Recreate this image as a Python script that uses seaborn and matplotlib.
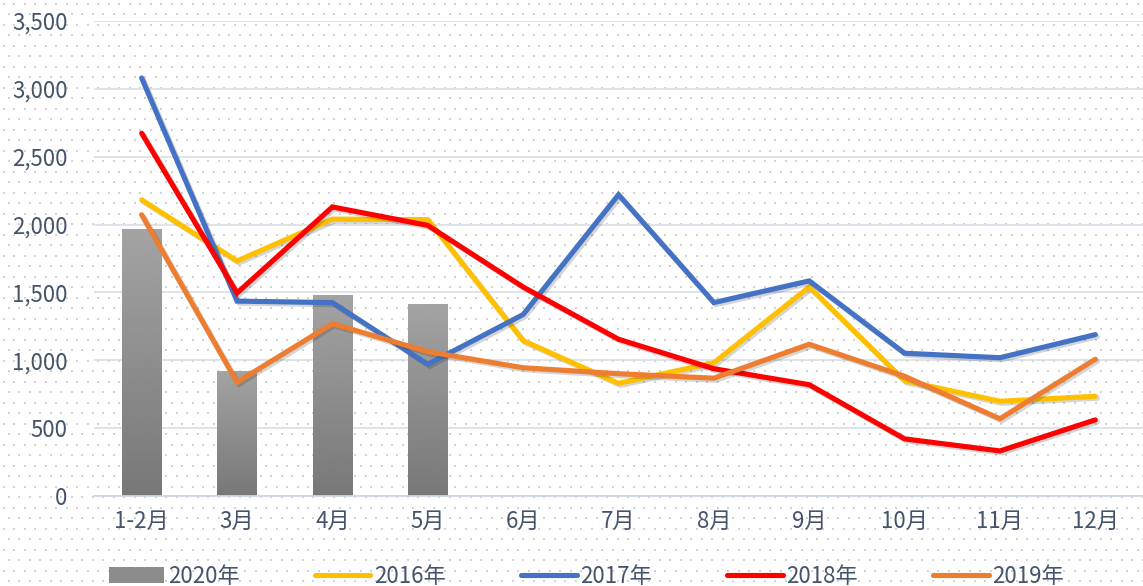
import matplotlib
matplotlib.use('Agg')
import matplotlib.pyplot as plt
import matplotlib.patheffects as pe
from matplotlib.patches import Patch
from matplotlib.lines import Line2D
import numpy as np
import pandas as pd
import seaborn as sns

sns.set_theme(style='white')
plt.rcParams['font.family'] = ['Noto Sans CJK SC', 'DejaVu Sans']

months = ['1-2月', '3月', '4月', '5月', '6月', '7月', '8月', '9月', '10月', '11月', '12月']
bars_2020 = [1965, 923, 1484, 1418]
y2016 = [2182, 1732, 2040, 2036, 1145, 830, 982, 1540, 849, 698, 735]
y2017 = [3080, 1436, 1425, 970, 1337, 2220, 1425, 1585, 1052, 1019, 1189]
y2018 = [2673, 1496, 2130, 1994, 1540, 1155, 938, 820, 421, 332, 561]
y2019 = [2072, 838, 1270, 1063, 945, 901, 868, 1118, 882, 569, 1008]
years = ['2016年', '2017年', '2018年', '2019年']
colors = ['#FFC000', '#4472C4', '#FF0000', '#ED7D31']
text_color = '#44546A'
grid_color = '#DCE0E8'
fs = 16

bar_df = pd.DataFrame({'month': months[:len(bars_2020)], 'value': bars_2020})
line_df = pd.DataFrame({
    'pos': np.tile(np.arange(len(months)), len(years)),
    'value': y2016 + y2017 + y2018 + y2019,
    'year': np.repeat(years, len(months)),
})

W, H = 1143, 586
fig = plt.figure(figsize=(W / 100, H / 100), dpi=100)
fig.patch.set_facecolor('white')

# dotted background texture
bg = np.ones((H, W, 3))
step = 10.5
for r, yy in enumerate(np.arange(3, H, step)):
    off = 0 if r % 2 == 0 else step / 2
    for xx in np.arange(3 + off, W, step):
        bg[int(yy):int(yy) + 2, int(xx):int(xx) + 2] = 0.83
fig.figimage(bg, xo=0, yo=0, origin='upper', zorder=-1)

ax = fig.add_axes([94 / W, 1 - 496 / H, 1 - 94 / W, (496 - 21) / H])
ax.set_facecolor('none')

sns.barplot(data=bar_df, x='month', y='value', order=months, width=0.41,
            color='#8c8c8c', ax=ax, zorder=2)

# vertical gray gradient on the bars
grad = np.linspace(0.64, 0.47, 256).reshape(-1, 1)
for p in list(ax.patches):
    x0, y0 = p.get_x(), p.get_y()
    w, h = p.get_width(), p.get_height()
    if not np.isfinite(h) or h <= 0:
        continue
    im = ax.imshow(grad, cmap='gray', vmin=0, vmax=1, aspect='auto',
                   extent=[x0, x0 + w, y0, y0 + h], origin='upper', zorder=2)
    im.set_clip_path(p)
    p.set_facecolor('none')
    p.set_edgecolor('none')

sns.lineplot(data=line_df, x='pos', y='value', hue='year', hue_order=years,
             palette=colors, linewidth=3.7, sort=False, legend=False, ax=ax,
             zorder=3)
for ln in ax.lines:
    ln.set_solid_capstyle('round')
    ln.set_solid_joinstyle('miter')
    ln.set_path_effects([pe.SimpleLineShadow(offset=(1.5, -1.5), alpha=0.18),
                         pe.Normal()])

ax.set_xlim(-0.5, len(months) - 0.5)
ax.set_ylim(0, 3500)
ax.set_yticks(np.arange(0, 3501, 500))
ax.set_yticklabels([f'{v:,}' for v in range(0, 3501, 500)])
ax.set_xticks(np.arange(len(months)))
ax.set_xticklabels(months)
ax.set_xticks(np.arange(-0.5, len(months)), minor=True)
ax.set_xlabel('')
ax.set_ylabel('')

ax.yaxis.grid(True, color=grid_color, linewidth=1.3, zorder=0)
ax.set_axisbelow(True)
for s in ['top', 'right', 'left']:
    ax.spines[s].set_visible(False)
ax.spines['bottom'].set_color('#D0D6E0')
ax.spines['bottom'].set_linewidth(1.3)
ax.tick_params(axis='y', length=0, pad=19, labelsize=fs, labelcolor=text_color)
ax.tick_params(axis='x', which='major', length=0, pad=10, labelsize=fs,
               labelcolor=text_color)
ax.tick_params(axis='x', which='minor', length=5, width=1.3, color='#D0D6E0',
               direction='out')

handles = [Patch(facecolor='#8c8c8c', edgecolor='none')]
handles += [Line2D([], [], color=c, linewidth=3.7, solid_capstyle='round') for c in colors]
labels = ['2020年'] + years
leg = fig.legend(handles, labels, loc='center', bbox_to_anchor=(0.513, 0.017),
                 ncol=5, frameon=False, fontsize=fs, handlelength=2.5,
                 handletextpad=0.15, columnspacing=3.4)
for t in leg.get_texts():
    t.set_color(text_color)

fig.savefig('out.png', dpi=100)
